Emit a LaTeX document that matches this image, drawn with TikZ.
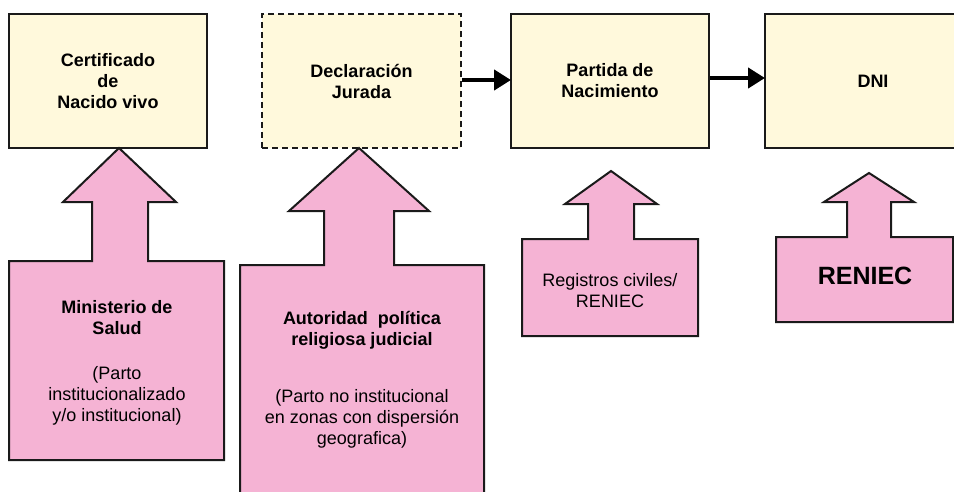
\documentclass[tikz,border=0pt]{standalone}
\usepackage{fontspec}
\setmainfont{Liberation Sans}
\usetikzlibrary{arrows.meta}
\definecolor{cream}{HTML}{FFF9DC}
\definecolor{pinkfill}{HTML}{F5B3D4}
\definecolor{edge}{HTML}{1A1A1A}
\tikzset{
  ybox/.style={draw=edge, line width=2pt, fill=cream, minimum height=134pt, inner sep=0pt,
    align=center, font=\bfseries\fontsize{18}{21}\selectfont},
  dashbox/.style={ybox, dash pattern=on 6pt off 4pt},
  conn/.style={line width=4.5pt, -{Triangle[length=17pt,width=20pt]}, shorten >=-1pt},
  pinkshape/.style={draw=edge, line width=2pt, fill=pinkfill, line join=miter},
  ptitle/.style={align=center, inner sep=0pt, font=\bfseries\fontsize{18}{21}\selectfont},
  ptext/.style={align=center, inner sep=0pt, font=\fontsize{18}{21}\selectfont},
}
\begin{document}
\begin{tikzpicture}[x=1pt, y=-1pt]
\useasboundingbox (0,0) rectangle (954,491);
\clip (0,0) rectangle (954,491);

% top boxes
\node[ybox, minimum width=198pt] (cert) at (108,81) {Certificado\\de\\Nacido vivo};
\node[dashbox, minimum width=199pt] (decl) at (361.5,81) {Declaración\\Jurada};
\node[ybox, minimum width=198pt] (part) at (610,81) {Partida de\\Nacimiento};
\node[ybox, minimum width=216pt] (dni) at (873,81) {DNI};

% connectors
\draw[conn] (decl.east |- 0,80) -- (part.west |- 0,80);
\draw[conn] (part.east |- 0,78) -- (dni.west |- 0,78);

% pink block arrows with boxes
\draw[pinkshape] (9,460) -- (9,261) -- (92,261) -- (92,202) -- (63,202) -- (119,148)
  -- (176,202) -- (148,202) -- (148,261) -- (224,261) -- (224,460) -- cycle;
\draw[pinkshape] (240,500) -- (240,265) -- (324,265) -- (324,211) -- (289,211) -- (359,148)
  -- (429,211) -- (394,211) -- (394,265) -- (484,265) -- (484,500) -- cycle;
\draw[pinkshape] (522,336) -- (522,239) -- (588,239) -- (588,204) -- (565,204) -- (611,171)
  -- (657,204) -- (634,204) -- (634,239) -- (698,239) -- (698,336) -- cycle;
\draw[pinkshape] (776,322) -- (776,237) -- (847,237) -- (847,202) -- (824,202) -- (869,173)
  -- (914,202) -- (891,202) -- (891,237) -- (953,237) -- (953,322) -- cycle;

% texts in pink boxes
\node[ptitle] (minsa) at (117,317.5) {Ministerio de\\Salud};
\node[ptext] (minsanote) at (117,395.5) {(Parto\\institucionalizado\\y/o institucional)};
\node[ptitle] (auto) at (362,330) {Autoridad\ \ política\\religiosa judicial};
\node[ptext] (autonote) at (362,419) {(Parto no institucional\\en zonas con dispersión\\geografica)};
\node[ptext] (regciv) at (610,290.5) {Registros civiles/\\RENIEC};
\node[align=center, inner sep=0pt, font=\bfseries\fontsize{25}{30}\selectfont] (reniec) at (865,276) {RENIEC};
\end{tikzpicture}
\end{document}
